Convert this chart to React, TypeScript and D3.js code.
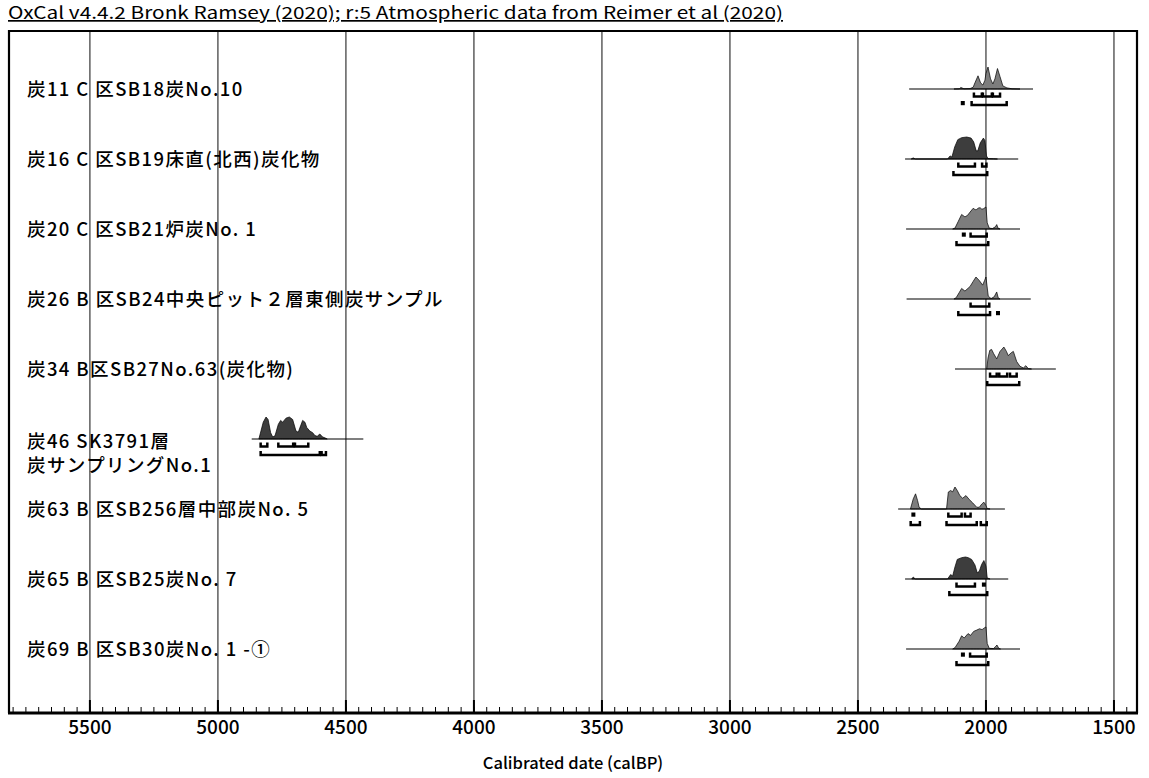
import React from "react";
import * as d3 from "d3";

const titleText = "OxCal v4.4.2 Bronk Ramsey (2020); r:5 Atmospheric data from Reimer et al (2020)";
const axisTitle = "Calibrated date (calBP)";

const sampleIds = ["s11", "s16", "s20", "s26", "s34", "s46", "s63", "s65", "s69"];

const sampleLabels: string[][] = [
  ["炭11 C 区SB18炭No.10"],
  ["炭16 C 区SB19床直(北西)炭化物"],
  ["炭20 C 区SB21炉炭No. 1"],
  ["炭26 B 区SB24中央ピット２層東側炭サンプル"],
  ["炭34 B区SB27No.63(炭化物)"],
  ["炭46 SK3791層", "炭サンプリングNo.1"],
  ["炭63 B 区SB256層中部炭No. 5"],
  ["炭65 B 区SB25炭No. 7"],
  ["炭69 B 区SB30炭No. 1 -①"],
];

// dark = true -> darker fill
const sampleDark = [false, true, false, false, false, true, false, true, false];

// horizontal range line per sample [from, to] calBP
const lineRanges: [number, number][] = [
  [2300, 1816],
  [2316, 1874],
  [2312, 1867],
  [2310, 1825],
  [2121, 1727],
  [4868, 4432],
  [2343, 1926],
  [2316, 1913],
  [2312, 1867],
];

// probability densities [calBP, relative probability]
const dens11: [number, number][] = [[2125,0],[2104,1],[2098,7],[2086,1],[2062,2],[2050,8],[2043,28],[2031,60],[2021,28],[2012,18],[2004,40],[2000,70],[1992,100],[1982,46],[1973,23],[1965,46],[1955,93],[1945,56],[1934,14],[1918,5],[1898,1],[1867,0]];
const dens16: [number, number][] = [[2292,0],[2284,5],[2276,0],[2150,0],[2140,14],[2133,9],[2122,55],[2110,88],[2095,97],[2075,100],[2058,95],[2048,78],[2038,37],[2032,37],[2022,74],[2010,95],[2004,84],[1998,14],[1992,2],[1970,1],[1955,0]];
const dens20: [number, number][] = [[2130,0],[2121,4],[2108,35],[2095,66],[2082,55],[2072,62],[2062,77],[2050,94],[2042,88],[2036,89],[2030,95],[2023,97],[2016,90],[2010,92],[2000,100],[1995,28],[1987,4],[1975,2],[1963,10],[1958,20],[1953,4],[1945,0]];
const dens26: [number, number][] = [[2125,0],[2117,5],[2105,28],[2095,48],[2082,36],[2062,57],[2050,80],[2039,100],[2026,84],[2013,63],[2005,85],[2000,100],[1991,13],[1980,2],[1968,10],[1958,32],[1952,5],[1945,0]];
const dens34: [number, number][] = [[1997,0],[1992,50],[1985,85],[1978,89],[1970,70],[1958,46],[1945,80],[1930,100],[1920,80],[1913,61],[1900,75],[1893,80],[1880,34],[1867,12],[1854,5],[1844,15],[1835,2],[1822,0]];
const dens46: [number, number][] = [[4840,0],[4823,74],[4812,97],[4804,86],[4794,28],[4786,9],[4777,14],[4764,65],[4755,82],[4747,74],[4734,92],[4721,97],[4708,86],[4695,35],[4686,30],[4677,58],[4669,82],[4660,74],[4653,51],[4641,35],[4630,28],[4621,15],[4612,12],[4602,22],[4591,9],[4582,5],[4573,0]];
const dens63: [number, number][] = [[2295,0],[2284,46],[2275,69],[2267,38],[2261,8],[2252,0],[2154,0],[2147,77],[2138,84],[2130,78],[2121,100],[2112,84],[2102,61],[2091,49],[2078,61],[2065,43],[2052,28],[2036,8],[2026,8],[2016,23],[2008,31],[2000,15],[1995,2],[1984,0]];
const dens65: [number, number][] = [[2290,0],[2284,9],[2276,0],[2150,0],[2138,20],[2130,14],[2121,55],[2112,89],[2095,97],[2080,100],[2069,97],[2056,89],[2043,64],[2034,28],[2026,35],[2017,66],[2008,84],[2000,58],[1995,5],[1984,0]];
const dens69: [number, number][] = [[2130,0],[2121,6],[2105,35],[2095,60],[2085,50],[2070,70],[2060,62],[2048,80],[2036,86],[2025,92],[2015,88],[2005,97],[2000,100],[1995,25],[1987,3],[1970,2],[1962,12],[1957,18],[1950,3],[1943,0]];

const densities = [dens11, dens16, dens20, dens26, dens34, dens46, dens63, dens65, dens69];

// 68.2% ranges
const sigma1: [number, number][][] = [
  [[2047, 2016], [2012, 1977], [1973, 1945]],
  [[2108, 2043], [2015, 1998]],
  [[2091, 2082], [2060, 1997]],
  [[2060, 1987]],
  [[1984, 1958], [1948, 1917], [1906, 1880]],
  [[4833, 4807], [4764, 4706], [4699, 4647]],
  [[2290, 2277], [2147, 2095], [2082, 2060]],
  [[2115, 2043], [2013, 2003]],
  [[2095, 2085], [2062, 1997]],
];
// 95.4% ranges
const sigma2: [number, number][][] = [
  [[2095, 2086], [2056, 1919]],
  [[2127, 1995]],
  [[2115, 1991]],
  [[2108, 1984], [1958, 1948]],
  [[1995, 1870]],
  [[4833, 4602], [4595, 4578]],
  [[2294, 2258], [2154, 2036], [2020, 1997]],
  [[2143, 1995]],
  [[2115, 1991]],
];

const xDomain: [number, number] = [5816, 1410];
const majorTicks = [5500, 5000, 4500, 4000, 3500, 3000, 2500, 2000, 1500];
const minorStep = 50;

const W = 1149;
const H = 778;
const left = 9;
const right = 1137;
const top = 31;
const bottom = 713;

export default function App() {
  const x = d3.scaleLinear().domain(xDomain).range([left, right]);
  const y = d3.scalePoint<string>().domain(sampleIds).range([89, 649]);
  const minorTicks = d3.range(5800, 1400, -minorStep);

  const labelFont = "'Noto Sans CJK JP', 'Noto Sans', sans-serif";
  const axisFont = "'Noto Sans CJK JP', 'Noto Sans', sans-serif";

  const bracket = (a: number, b: number, yy: number) => {
    const x1 = x(a);
    const x2 = x(b);
    if (Math.abs(x2 - x1) < 3.5) {
      const cx = (x1 + x2) / 2;
      return <rect x={cx - 2} y={yy - 4} width={4} height={4.2} fill="#000" />;
    }
    return (
      <path
        d={`M${x1},${yy - 4}V${yy}H${x2}V${yy - 4}`}
        fill="none"
        stroke="#000"
        strokeWidth={2.5}
      />
    );
  };

  return (
    <svg width={W} height={H} style={{ position: "absolute", left: 0, top: 0, background: "#fff" }}>
      <text
        x={8}
        y={19}
        fontFamily={axisFont}
        fontSize={17}
        fontWeight={400}
        textLength={775}
        lengthAdjust="spacingAndGlyphs"
        textDecoration="underline"
        fill="#000"
      >
        {titleText}
      </text>

      {/* grid lines */}
      {majorTicks.map((t) => (
        <line key={"g" + t} x1={x(t)} x2={x(t)} y1={top} y2={bottom} stroke="#444" strokeWidth={1.3} />
      ))}

      {/* frame */}
      <line x1={left} x2={left} y1={top - 1} y2={bottom} stroke="#000" strokeWidth={2.2} />
      <line x1={right} x2={right} y1={top - 1} y2={bottom} stroke="#000" strokeWidth={2.2} />
      <line x1={left - 1} x2={right + 1} y1={top} y2={top} stroke="#000" strokeWidth={2.2} />

      {/* samples */}
      {sampleIds.map((id, i) => {
        const by = y(id) as number;
        const dens = densities[i];
        const maxP = d3.max(dens, (d) => d[1]) as number;
        const h = d3.scaleLinear().domain([0, maxP]).range([0, 22]);
        const area = d3
          .area<[number, number]>()
          .x((d) => x(d[0]))
          .y0(by)
          .y1((d) => by - h(d[1]))
          .curve(d3.curveLinear);
        const [la, lb] = lineRanges[i];
        return (
          <g key={id}>
            <path d={area(dens) || ""} fill={sampleDark[i] ? "#3d3d3d" : "#7d7d7d"} stroke="#000" strokeWidth={0.7} />
            <line x1={x(la)} x2={x(lb)} y1={by} y2={by} stroke="#000" strokeWidth={1.2} />
            {sigma1[i].map((r, k) => (
              <g key={"a" + k}>{bracket(r[0], r[1], by + 7.5)}</g>
            ))}
            {sigma2[i].map((r, k) => (
              <g key={"b" + k}>{bracket(r[0], r[1], by + 16)}</g>
            ))}
            {sampleLabels[i].map((s, k) => (
              <text
                key={k}
                x={27}
                y={by + 6.5 + k * 24 + (sampleLabels[i].length > 1 ? 2 : 0)}
                fontFamily={labelFont}
                fontSize={18.5}
                fontWeight={500}
                letterSpacing={1.4}
                fill="#000"
              >
                {s}
              </text>
            ))}
          </g>
        );
      })}

      {/* axis */}
      {minorTicks.map((t) => (
        <line key={"m" + t} x1={x(t)} x2={x(t)} y1={bottom} y2={bottom - 6} stroke="#000" strokeWidth={1} />
      ))}
      {majorTicks.map((t) => (
        <line key={"M" + t} x1={x(t)} x2={x(t)} y1={bottom} y2={bottom - 13} stroke="#000" strokeWidth={2} />
      ))}
      <line x1={left - 1} x2={right + 1} y1={bottom} y2={bottom} stroke="#000" strokeWidth={3} />
      {majorTicks.map((t) => (
        <text key={"t" + t} x={x(t)} y={734} textAnchor="middle" fontFamily={axisFont} fontSize={19} fontWeight={500} fill="#000">
          {t}
        </text>
      ))}
      <text x={573} y={769} textAnchor="middle" fontFamily={axisFont} fontSize={16.5} fontWeight={500} fill="#000">
        {axisTitle}
      </text>
    </svg>
  );
}
